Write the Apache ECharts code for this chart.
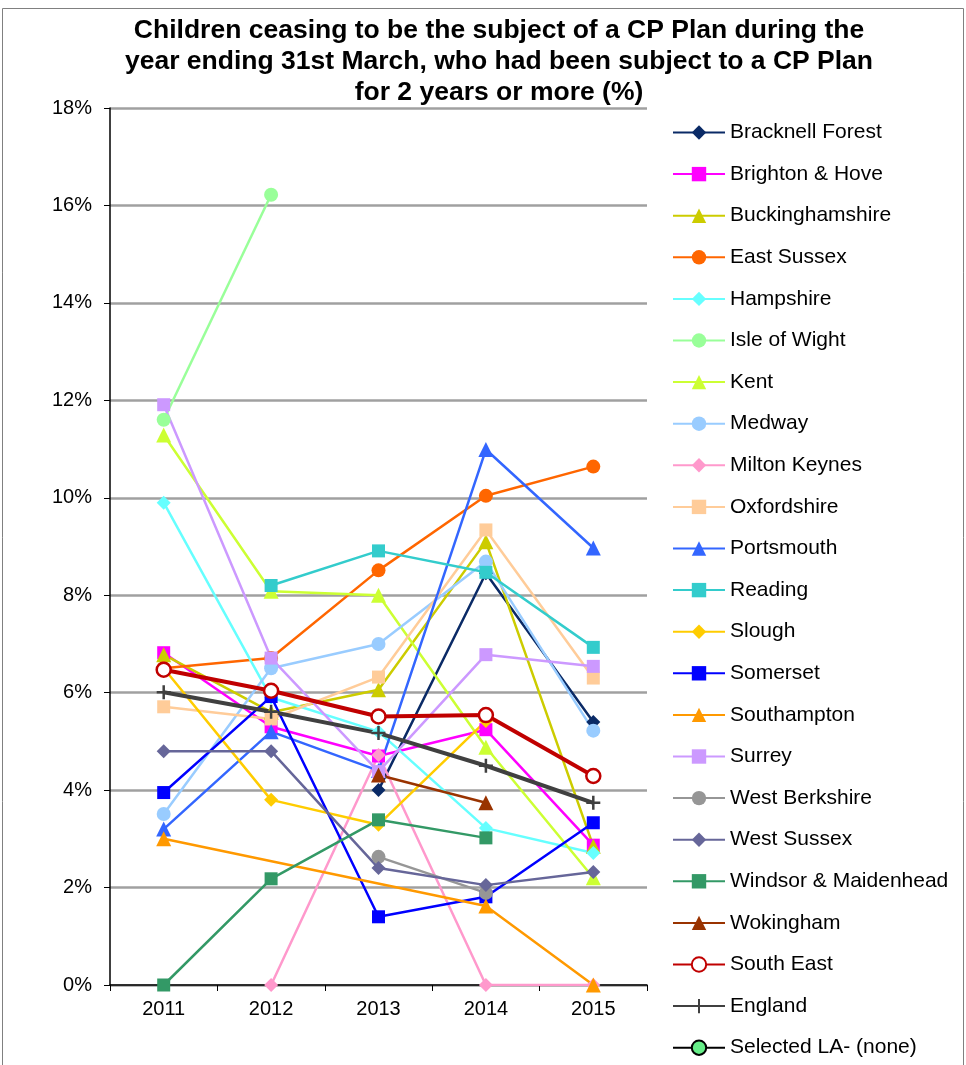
<!DOCTYPE html>
<html>
<head>
<meta charset="utf-8">
<script src="https://cdn.jsdelivr.net/npm/echarts@6/dist/echarts.min.js"></script>
<style>
  html, body { margin: 0; padding: 0; background: #fff; }
  #chart { width: 966px; height: 1065px; }
</style>
</head>
<body>
<div id="chart"></div>
<script>
// Years on the category axis
const years = ['2011', '2012', '2013', '2014', '2015'];

// Percentage of children ceasing CP Plan who had been on a plan for 2+ years
const bracknellForest    = [null, null, 4.0, 8.45, 5.4];
const brightonHove       = [6.82, 5.3, 4.7, 5.24, 2.87];
const buckinghamshire    = [6.78, 5.6, 6.06, 9.1, 2.85];
const eastSussex         = [6.5, 6.71, 8.51, 10.04, 10.64];
const hampshire          = [9.9, 5.9, 5.2, 3.22, 2.71];
const isleOfWight        = [11.6, 16.22, null, null, null];
const kent               = [11.29, 8.08, 8.0, 4.88, 2.2];
const medway             = [3.51, 6.5, 7.0, 8.69, 5.22];
const miltonKeynes       = [null, 0, 4.72, 0, 0];
const oxfordshire        = [5.71, 5.46, 6.32, 9.34, 6.3];
const portsmouth         = [3.2, 5.2, 4.4, 10.99, 8.97];
const reading            = [null, 8.2, 8.91, 8.47, 6.93];
const slough             = [6.5, 3.8, 3.29, 5.42, null];
const somerset           = [3.95, 5.92, 1.4, 1.81, 3.33];
const southampton        = [3.0, null, null, 1.62, 0];
const surrey             = [11.91, 6.71, 4.38, 6.78, 6.54];
const westBerkshire      = [null, null, 2.63, 1.89, null];
const westSussex         = [4.8, 4.8, 2.4, 2.05, 2.32];
const windsorMaidenhead  = [0, 2.18, 3.39, 3.02, null];
const wokingham          = [null, null, 4.31, 3.74, null];
const southEast          = [6.47, 6.04, 5.51, 5.54, 4.29];
const england            = [6.01, 5.61, 5.17, 4.5, 3.74];
const selectedLA         = [null, null, null, null, null];

// Y axis range (percent)
const yMin = 0, yMax = 18, yStep = 2;

const FONT = 'Liberation Sans, Arial, sans-serif';
const PLUS = 'path://M5,0 L5,10 M0,5 L10,5';

function la(name, data, color, symbol, extra) {
  return Object.assign({
    name: name,
    type: 'line',
    data: data,
    connectNulls: true,
    symbol: symbol,
    symbolSize: 13,
    lineStyle: { color: color, width: 2.5 },
    itemStyle: { color: color },
    emphasis: { disabled: true },
    animation: false
  }, extra || {});
}

const series = [
  la('Bracknell Forest', bracknellForest, '#0A2A66', 'diamond', { symbolSize: 14 }),
  la('Brighton & Hove', brightonHove, '#FF00FF', 'rect'),
  la('Buckinghamshire', buckinghamshire, '#CCCC00', 'triangle', { symbolSize: 15 }),
  la('East Sussex', eastSussex, '#FF6600', 'circle', { symbolSize: 14 }),
  la('Hampshire', hampshire, '#66FFFF', 'diamond', { symbolSize: 14 }),
  la('Isle of Wight', isleOfWight, '#99FF99', 'circle', { symbolSize: 14 }),
  la('Kent', kent, '#CCFF33', 'triangle', { symbolSize: 15 }),
  la('Medway', medway, '#99CCFF', 'circle', { symbolSize: 14 }),
  la('Milton Keynes', miltonKeynes, '#FF99CC', 'diamond', { symbolSize: 14 }),
  la('Oxfordshire', oxfordshire, '#FFCC99', 'rect'),
  la('Portsmouth', portsmouth, '#3366FF', 'triangle', { symbolSize: 15 }),
  la('Reading', reading, '#33CCCC', 'rect'),
  la('Slough', slough, '#FFCC00', 'diamond', { symbolSize: 14 }),
  la('Somerset', somerset, '#0000FF', 'rect'),
  la('Southampton', southampton, '#FF9900', 'triangle', { symbolSize: 15 }),
  la('Surrey', surrey, '#CC99FF', 'rect'),
  la('West Berkshire', westBerkshire, '#969696', 'circle', { symbolSize: 14 }),
  la('West Sussex', westSussex, '#666699', 'diamond', { symbolSize: 14 }),
  la('Windsor & Maidenhead', windsorMaidenhead, '#339966', 'rect'),
  la('Wokingham', wokingham, '#993300', 'triangle', { symbolSize: 15 }),
  la('South East', southEast, '#C00000', 'circle', {
    symbolSize: 14,
    lineStyle: { color: '#C00000', width: 4 },
    itemStyle: { color: '#FFFFFF', borderColor: '#C00000', borderWidth: 2.5 }
  }),
  la('England', england, '#404040', PLUS, {
    symbolSize: 14,
    lineStyle: { color: '#404040', width: 4 },
    itemStyle: { color: '#404040', borderColor: '#404040', borderWidth: 2.5 }
  }),
  la('Selected LA- (none)', selectedLA, '#000000', 'circle', {
    symbolSize: 13,
    lineStyle: { color: '#000000', width: 5 },
    itemStyle: { color: '#66EE88', borderColor: '#000000', borderWidth: 1.5 }
  })
];

const chart = echarts.init(document.getElementById('chart'), null, { renderer: 'canvas' });

chart.setOption({
  backgroundColor: '#FFFFFF',
  animation: false,
  title: {
    text: 'Children ceasing to be the subject of a CP Plan during the\nyear ending 31st March, who had been subject to a CP Plan\nfor 2 years or more (%)',
    left: 494,
    top: 10,
    textAlign: 'center',
    textStyle: {
      fontFamily: FONT,
      fontSize: 26.5,
      fontWeight: 'bold',
      lineHeight: 31,
      color: '#000000'
    }
  },
  graphic: [{
    type: 'rect',
    shape: { x: 2.5, y: 8.5, width: 961, height: 1060 },
    style: { fill: 'none', stroke: '#808080', lineWidth: 1 },
    silent: true,
    z: -1
  }],
  legend: {
    type: 'plain',
    orient: 'vertical',
    left: 672,
    top: 122,
    height: 940,
    padding: 0,
    itemWidth: 52,
    itemHeight: 18,
    itemGap: 20.6,
    textStyle: { fontFamily: FONT, fontSize: 21, color: '#000000', lineHeight: 21 },
    data: series.map(s => s.name),
    selectedMode: false
  },
  grid: { left: 110, right: 319, top: 108, bottom: 80, containLabel: false },
  xAxis: {
    type: 'category',
    data: years,
    boundaryGap: true,
    axisLine: { lineStyle: { color: '#000000', width: 1.5 } },
    axisTick: { show: true, length: 6, lineStyle: { color: '#000000' } },
    axisLabel: { fontFamily: FONT, fontSize: 20, color: '#000000', margin: 14 },
    splitLine: { show: false }
  },
  yAxis: {
    type: 'value',
    min: yMin,
    max: yMax,
    interval: yStep,
    axisLine: { show: true, lineStyle: { color: '#000000', width: 1.5 } },
    axisTick: { show: true, length: 6, lineStyle: { color: '#000000' } },
    axisLabel: { fontFamily: FONT, fontSize: 20, color: '#000000', margin: 18, formatter: '{value}%' },
    splitLine: { show: true, lineStyle: { color: '#A0A0A0', width: 2.5 } }
  },
  series: series
});
</script>
</body>
</html>
